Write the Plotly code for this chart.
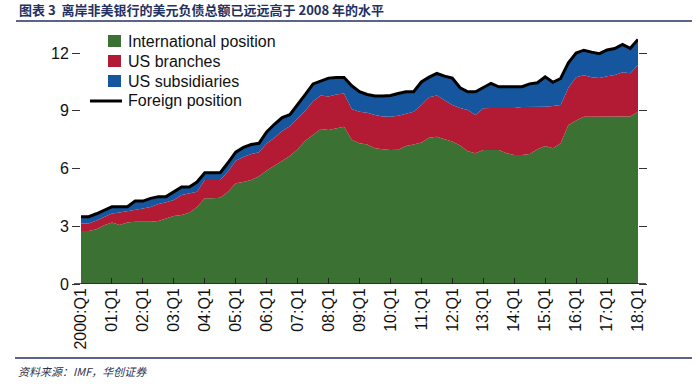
import plotly.graph_objects as go

# ---- data (quarterly, 2000:Q1 .. 2018:Q1), USD trillions ----
year_labels = ["2000:Q1", "01:Q1", "02:Q1", "03:Q1", "04:Q1", "05:Q1", "06:Q1", "07:Q1",
               "08:Q1", "09:Q1", "10:Q1", "11:Q1", "12:Q1", "13:Q1", "14:Q1", "15:Q1",
               "16:Q1", "17:Q1", "18:Q1"]

international = [2.75, 2.75, 2.85, 3.05, 3.19, 3.07, 3.20, 3.24, 3.24, 3.24, 3.28, 3.40,
                 3.53, 3.58, 3.70, 4.00, 4.45, 4.45, 4.48, 4.80, 5.23, 5.30, 5.40, 5.60,
                 5.90, 6.15, 6.40, 6.65, 7.00, 7.45, 7.75, 8.05, 8.00, 8.10, 8.17, 7.50,
                 7.31, 7.25, 7.05, 7.00, 6.96, 6.98, 7.17, 7.25, 7.35, 7.60, 7.65, 7.52,
                 7.40, 7.20, 6.90, 6.80, 6.96, 6.96, 6.96, 6.80, 6.70, 6.70, 6.75, 7.00,
                 7.17, 7.05, 7.31, 8.26, 8.50, 8.69, 8.70, 8.70, 8.70, 8.70, 8.70, 8.70,
                 8.95]

us_branches = [0.40, 0.40, 0.45, 0.45, 0.48, 0.65, 0.60, 0.61, 0.69, 0.76, 0.88, 0.85,
               0.83, 1.04, 1.00, 0.80, 0.95, 0.95, 0.92, 1.05, 1.17, 1.30, 1.35, 1.25,
               1.40, 1.45, 1.55, 1.55, 1.60, 1.55, 1.75, 1.75, 1.75, 1.75, 1.73, 1.60,
               1.64, 1.65, 1.73, 1.70, 1.73, 1.77, 1.68, 1.70, 1.95, 2.10, 2.15, 2.03,
               1.90, 1.95, 2.14, 1.98, 2.17, 2.19, 2.19, 2.35, 2.45, 2.50, 2.45, 2.20,
               2.04, 2.20, 1.99, 1.94, 2.25, 2.16, 2.05, 2.00, 2.10, 2.16, 2.30, 2.25,
               2.43]

us_subsidiaries = [0.35, 0.35, 0.35, 0.35, 0.35, 0.30, 0.22, 0.46, 0.38, 0.45, 0.38, 0.29,
                   0.44, 0.42, 0.34, 0.50, 0.38, 0.38, 0.38, 0.45, 0.45, 0.50, 0.50, 0.46,
                   0.60, 0.70, 0.70, 0.60, 0.70, 0.85, 0.90, 0.75, 0.95, 0.88, 0.83, 1.20,
                   1.05, 0.95, 0.99, 1.07, 1.11, 1.15, 1.14, 1.04, 1.20, 1.05, 1.14, 1.25,
                   1.40, 1.05, 0.95, 1.21, 1.07, 1.28, 1.10, 1.10, 1.10, 1.05, 1.20, 1.26,
                   1.56, 1.23, 1.38, 1.30, 1.25, 1.30, 1.30, 1.27, 1.36, 1.38, 1.45, 1.30,
                   1.32]

foreign_position = [round(a + b + c, 2) for a, b, c in zip(international, us_branches, us_subsidiaries)]
x_vals = [i / 4 for i in range(len(international))]

series_names = ["International position", "US branches", "US subsidiaries", "Foreign position"]
y_ticks = [0, 3, 6, 9, 12]

title_text = "图表 3  离岸非美银行的美元负债总额已远远高于 2008 年的水平"
source_text = "资料来源：IMF，华创证券"

GREEN = "#3b7132"
RED = "#b31b35"
BLUE = "#15569f"
NAVY = "#23315f"

# ---- layout geometry (pixels) ----
W, H = 700, 387
L, R, T, B = 81, 638, 30, 284


def px(xp):
    return (xp - L) / (R - L)


def py(yp):
    return (B - yp) / (B - T)


fig = go.Figure()
for name, vals, col in [(series_names[0], international, GREEN),
                        (series_names[1], us_branches, RED),
                        (series_names[2], us_subsidiaries, BLUE)]:
    fig.add_trace(go.Scatter(x=x_vals, y=vals, name=name, mode="lines",
                             stackgroup="one", line=dict(width=0, color=col),
                             fillcolor=col, showlegend=False, hoverinfo="skip"))
fig.add_trace(go.Scatter(x=x_vals, y=foreign_position, name=series_names[3], mode="lines",
                         line=dict(color="#000000", width=3), showlegend=False))

shapes = []
annotations = []

# bottom axis line, slightly longer than data range
shapes.append(dict(type="line", xref="paper", yref="y", x0=px(74), x1=px(646), y0=0, y1=0,
                   line=dict(color="#222222", width=1.5)))
# title rule and source rule
shapes.append(dict(type="line", xref="paper", yref="paper", x0=px(16), x1=px(692),
                   y0=py(21), y1=py(21), line=dict(color=NAVY, width=1.5)))
shapes.append(dict(type="line", xref="paper", yref="paper", x0=px(15), x1=px(692),
                   y0=py(358), y1=py(358), line=dict(color=NAVY, width=1.5)))

# custom legend
legend_rows = [41, 61, 81, 101]
for name, col, yc in zip(series_names[:3], [GREEN, RED, BLUE], legend_rows[:3]):
    shapes.append(dict(type="rect", xref="paper", yref="paper", x0=px(108), x1=px(121),
                       y0=py(yc - 6), y1=py(yc + 6), line=dict(width=0), fillcolor=col))
shapes.append(dict(type="line", xref="paper", yref="paper", x0=px(90), x1=px(122),
                   y0=py(legend_rows[3]), y1=py(legend_rows[3]),
                   line=dict(color="#000000", width=3)))
for name, yc in zip(series_names, legend_rows):
    annotations.append(dict(text=name, xref="paper", yref="paper", x=px(126), y=py(yc),
                            xanchor="left", yanchor="middle", showarrow=False,
                            font=dict(family="Liberation Sans, Arial, sans-serif", size=16,
                                      color="#111111")))

annotations.append(dict(text="<b>" + title_text + "</b>", xref="paper", yref="paper",
                        x=px(17), y=py(10), xanchor="left", yanchor="middle", showarrow=False,
                        font=dict(family="Noto Sans CJK SC", size=13, color=NAVY)))
annotations.append(dict(text=source_text, xref="paper", yref="paper",
                        x=px(16), y=py(371), xanchor="left", yanchor="middle", showarrow=False,
                        font=dict(family="Noto Sans CJK SC", size=11, color="#2b3550",
                                  style="italic")))

fig.update_layout(
    width=W, height=H,
    margin=dict(l=L, r=W - R, t=T, b=H - B, pad=0),
    paper_bgcolor="white", plot_bgcolor="white",
    showlegend=False,
    font=dict(family="Liberation Sans, Arial, sans-serif", size=16, color="#111111"),
    xaxis=dict(range=[0, 18], tickvals=list(range(19)), ticktext=year_labels,
               tickangle=-90, ticks="inside", ticklen=6, tickwidth=1.2, tickcolor="#222222",
               showgrid=False, zeroline=False, showline=False,
               tickfont=dict(size=16, color="#111111")),
    yaxis=dict(range=[0, 13.2], tickvals=y_ticks, ticks="outside", ticklen=8,
               tickwidth=1.2, tickcolor="#333333", showgrid=False, zeroline=False,
               showline=False, mirror="ticks", tickfont=dict(size=16, color="#111111")),
    shapes=shapes, annotations=annotations,
)

fig.write_html("out.html", config={"displayModeBar": False},
               post_script="document.body.style.margin='0px';document.body.style.padding='0px';")
